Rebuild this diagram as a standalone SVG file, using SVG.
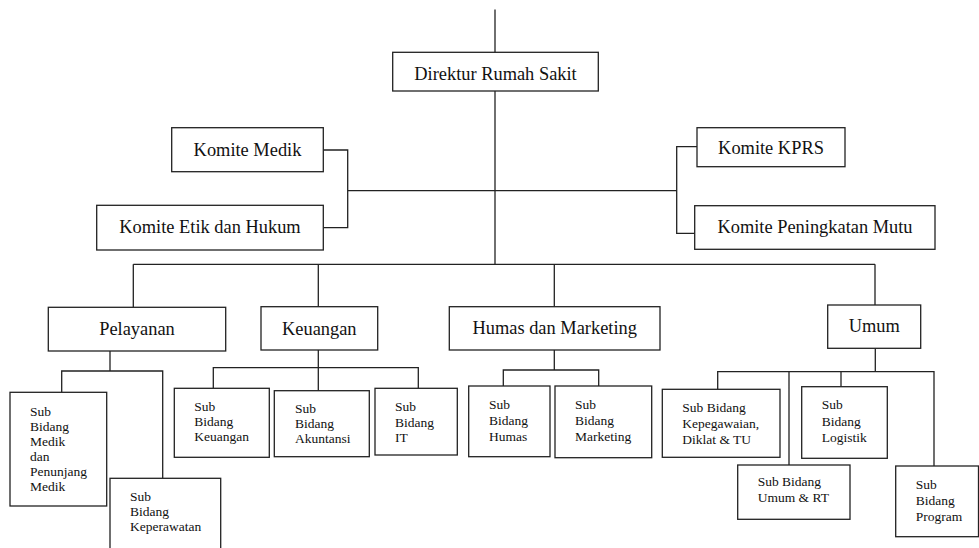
<svg xmlns="http://www.w3.org/2000/svg" width="979" height="548" viewBox="0 0 979 548">
<style>
  .box { fill: #ffffff; stroke: #222222; stroke-width: 1.3; }
  .ln { fill: none; stroke: #222222; stroke-width: 1.3; }
  .big { font-family: "Liberation Serif", "Times New Roman", serif; font-size: 18.4px; fill: #111111; text-anchor: middle; }
  .sm { font-family: "Liberation Serif", "Times New Roman", serif; font-size: 13.5px; fill: #111111; }
</style>
<rect width="979" height="548" fill="#ffffff"/>
<g id="connectors">
  <path class="ln" d="M495 9.5 V264.3" stroke-width="1.8"/>
  <path class="ln" d="M323.3 150 H347.7 V227.7 H323.3 M347.7 190.7 H495"/>
  <path class="ln" d="M495 190.7 H676.7 M697 146.7 H676.7 V233.3 H694.7"/>
  <path class="ln" d="M133.3 264.3 H875 M133.3 264.3 V307.3 M318.3 264.3 V306.7 M554.3 264.3 V306.7 M875 264.3 V305"/>
  <path class="ln" d="M110 351 V371 M61.7 392.3 V371 H162.7 V478.3"/>
  <path class="ln" d="M318.3 350 V390.7 M213.3 388.3 V367.7 H418.3 V388.3"/>
  <path class="ln" d="M554.3 350 V370 M503.3 386 V370 H598.7 V386"/>
  <path class="ln" d="M875.3 348.3 V371.7 M717.7 389.3 V371.7 H934 V466 M789 371.7 V465 M841 371.7 V386.7"/>
</g>
<g id="direktur">
  <rect class="box" x="392.7" y="52.3" width="205.6" height="38.7"/>
  <text class="big" x="495.5" y="80">Direktur Rumah Sakit</text>
</g>
<g id="komite-medik">
  <rect class="box" x="171.7" y="127.7" width="151.6" height="44"/>
  <text class="big" x="247.5" y="155.7">Komite Medik</text>
</g>
<g id="komite-etik">
  <rect class="box" x="96.7" y="205.3" width="226.6" height="44.7"/>
  <text class="big" x="210" y="233.3">Komite Etik dan Hukum</text>
</g>
<g id="komite-kprs">
  <rect class="box" x="697" y="127.7" width="148" height="39"/>
  <text class="big" x="771" y="154.3">Komite KPRS</text>
</g>
<g id="komite-mutu">
  <rect class="box" x="694.7" y="205.7" width="240.3" height="43.6"/>
  <text class="big" x="815" y="233.3">Komite Peningkatan Mutu</text>
</g>
<g id="pelayanan">
  <rect class="box" x="48.3" y="307.3" width="177.4" height="43.7"/>
  <text class="big" x="137" y="335">Pelayanan</text>
</g>
<g id="keuangan">
  <rect class="box" x="261" y="306.7" width="116.7" height="43.3"/>
  <text class="big" x="319.3" y="335">Keuangan</text>
</g>
<g id="humas-marketing">
  <rect class="box" x="449.3" y="306.7" width="210.7" height="43.3"/>
  <text class="big" x="554.7" y="334.3">Humas dan Marketing</text>
</g>
<g id="umum">
  <rect class="box" x="827.7" y="305" width="93" height="43.3"/>
  <text class="big" x="874.2" y="331.7">Umum</text>
</g>
<g id="sub-medik">
  <rect class="box" x="10" y="392.3" width="96.7" height="113.7"/>
  <text class="sm" x="30" y="415.7">Sub</text>
  <text class="sm" x="30" y="430.7">Bidang</text>
  <text class="sm" x="30" y="445.7">Medik</text>
  <text class="sm" x="30" y="460.7">dan</text>
  <text class="sm" x="30" y="475.7">Penunjang</text>
  <text class="sm" x="30" y="490.7">Medik</text>
</g>
<g id="sub-keperawatan">
  <rect class="box" x="110" y="478.3" width="110.7" height="90"/>
  <text class="sm" x="130" y="500.7">Sub</text>
  <text class="sm" x="130" y="516">Bidang</text>
  <text class="sm" x="130" y="531.3">Keperawatan</text>
</g>
<g id="sub-keuangan">
  <rect class="box" x="174.3" y="388.3" width="95" height="69"/>
  <text class="sm" x="194.3" y="410.7">Sub</text>
  <text class="sm" x="194.3" y="426">Bidang</text>
  <text class="sm" x="194.3" y="441.3">Keuangan</text>
</g>
<g id="sub-akuntansi">
  <rect class="box" x="274.3" y="390.7" width="95" height="66"/>
  <text class="sm" x="295" y="413.3">Sub</text>
  <text class="sm" x="295" y="428.3">Bidang</text>
  <text class="sm" x="295" y="443.3">Akuntansi</text>
</g>
<g id="sub-it">
  <rect class="box" x="375" y="388.3" width="82.3" height="66.7"/>
  <text class="sm" x="395" y="411">Sub</text>
  <text class="sm" x="395" y="426.5">Bidang</text>
  <text class="sm" x="395" y="442">IT</text>
</g>
<g id="sub-humas">
  <rect class="box" x="468.7" y="386" width="81.3" height="70.7"/>
  <text class="sm" x="489" y="409">Sub</text>
  <text class="sm" x="489" y="425">Bidang</text>
  <text class="sm" x="489" y="441">Humas</text>
</g>
<g id="sub-marketing">
  <rect class="box" x="555" y="386" width="96.7" height="71.7"/>
  <text class="sm" x="575" y="409">Sub</text>
  <text class="sm" x="575" y="425">Bidang</text>
  <text class="sm" x="575" y="441">Marketing</text>
</g>
<g id="sub-kepegawaian">
  <rect class="box" x="662.3" y="389.3" width="117.7" height="68"/>
  <text class="sm" x="682.3" y="412.3">Sub Bidang</text>
  <text class="sm" x="682.3" y="428.3">Kepegawaian,</text>
  <text class="sm" x="682.3" y="444">Diklat &amp; TU</text>
</g>
<g id="sub-logistik">
  <rect class="box" x="801.7" y="386.7" width="85.6" height="71.6"/>
  <text class="sm" x="821.7" y="409">Sub</text>
  <text class="sm" x="821.7" y="425.7">Bidang</text>
  <text class="sm" x="821.7" y="442.3">Logistik</text>
</g>
<g id="sub-umum-rt">
  <rect class="box" x="737.7" y="465" width="112.3" height="54.3"/>
  <text class="sm" x="757.7" y="485.7">Sub Bidang</text>
  <text class="sm" x="757.7" y="502">Umum &amp; RT</text>
</g>
<g id="sub-program">
  <rect class="box" x="895.7" y="466" width="82.8" height="70.7"/>
  <text class="sm" x="915.7" y="489">Sub</text>
  <text class="sm" x="915.7" y="505">Bidang</text>
  <text class="sm" x="915.7" y="521">Program</text>
</g>
</svg>
